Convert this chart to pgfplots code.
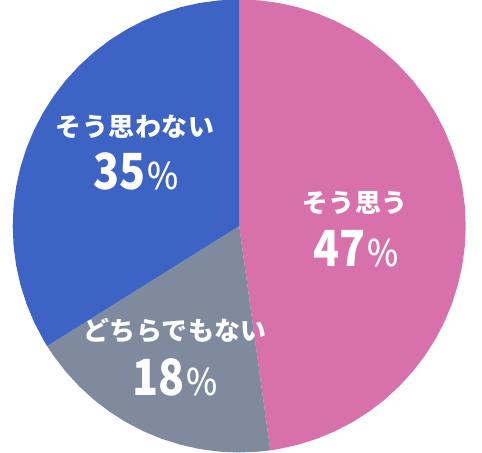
\documentclass[border=0pt]{standalone}
\usepackage{fontspec}
\usepackage{pgfplots}
\pgfplotsset{compat=1.18}
\usepgfplotslibrary{polar}
\newfontfamily\jp{Noto Sans CJK JP}
\newfontfamily\jpm{Noto Sans CJK JP Medium}
\definecolor{pinkslice}{HTML}{D870AC}
\definecolor{grayslice}{HTML}{808A9F}
\definecolor{blueslice}{HTML}{3D63C4}
\newcommand\lbl[1]{{\jp\bfseries\fontsize{26}{26}\selectfont\addfontfeature{LetterSpace=2}#1}}
\newcommand\pct[1]{{\jp\bfseries\fontsize{50}{50}\selectfont\scalebox{0.86}[1]{#1}\hspace{1bp}\jpm\mdseries\fontsize{37}{37}\selectfont\scalebox{0.9}[1]{\%}}}
\begin{document}
\begin{tikzpicture}[x=1bp,y=1bp]
  \path[use as bounding box] (-239.2,-227) rectangle (242.8,226);
  \begin{polaraxis}[
      hide axis,
      scale only axis,
      width=453bp, height=453bp,
      at={(0,0)}, anchor=center,
      xmin=0, xmax=360, ymin=0, ymax=1,
      clip=false,
    ]
    % そう思う 47% : 90 -> -82.1
    \addplot[draw=none, fill=pinkslice] coordinates {
      (90,0) (90,1) (85,1) (80,1) (75,1) (70,1) (65,1) (60,1) (55,1) (50,1)
      (45,1) (40,1) (35,1) (30,1) (25,1) (20,1) (15,1) (10,1) (5,1) (0,1)
      (-5,1) (-10,1) (-15,1) (-20,1) (-25,1) (-30,1) (-35,1) (-40,1) (-45,1)
      (-50,1) (-55,1) (-60,1) (-65,1) (-70,1) (-75,1) (-80,1) (-82.1,1) (-82.1,0)
    } -- cycle;
    % どちらでもない 18% : -82.1 -> -148
    \addplot[draw=none, fill=grayslice] coordinates {
      (-82.1,0) (-82.1,1) (-85,1) (-90,1) (-95,1) (-100,1) (-105,1) (-110,1)
      (-115,1) (-120,1) (-125,1) (-130,1) (-135,1) (-140,1) (-145,1) (-148,1) (-148,0)
    } -- cycle;
    % そう思わない 35% : -148 -> -270
    \addplot[draw=none, fill=blueslice] coordinates {
      (-148,0) (-148,1) (-150,1) (-155,1) (-160,1) (-165,1) (-170,1) (-175,1)
      (-180,1) (-185,1) (-190,1) (-195,1) (-200,1) (-205,1) (-210,1) (-215,1)
      (-220,1) (-225,1) (-230,1) (-235,1) (-240,1) (-245,1) (-250,1) (-255,1)
      (-260,1) (-265,1) (-270,1) (-270,0)
    } -- cycle;
  \end{polaraxis}
  \begin{scope}[every node/.style={text=white, inner sep=0pt, anchor=center}]
    \node at (-104.2,99.3) {\lbl{そう思わない}};
    \node at (-103.2,54.6) {\pct{35}};
    \node at (115.8,23) {\lbl{そう思う}};
    \node at (116.8,-23) {\pct{47}};
    \node at (-64.2,-104.8) {\lbl{どちらでもない}};
    \node at (-64.2,-151) {\pct{18}};
  \end{scope}
\end{tikzpicture}
\end{document}
